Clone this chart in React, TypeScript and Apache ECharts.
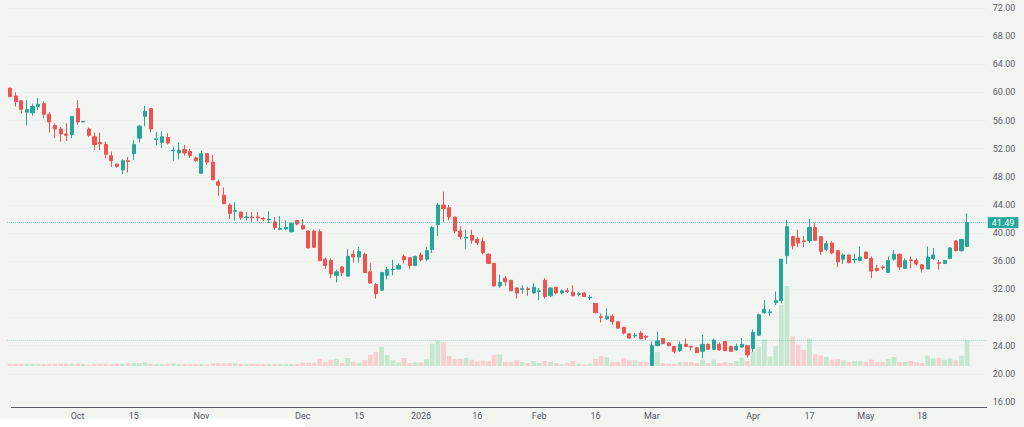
import React, { useEffect, useRef } from "react";
import * as echarts from "echarts";

// [open, close, low, high]
const candles: [number, number, number, number][] = [
  [60.6, 59.4, 59.3, 60.7], [59.5, 58.7, 58.0, 60.0], [58.8, 57.6, 57.0, 58.9], [57.2, 57.6, 55.3, 58.9],
  [57.1, 58.0, 56.7, 58.4], [58.0, 58.3, 57.5, 59.2], [58.4, 56.9, 56.3, 58.7], [56.9, 55.8, 54.3, 57.2],
  [55.3, 54.8, 53.5, 55.6], [54.8, 54.1, 53.0, 55.1], [54.1, 53.9, 53.1, 55.6], [54.0, 56.6, 53.5, 56.6],
  [57.7, 55.8, 55.4, 58.9], [55.8, 55.9, 55.7, 55.9], [54.8, 53.9, 53.7, 55.0], [53.7, 52.6, 51.8, 54.3],
  [52.9, 52.7, 51.8, 54.3], [52.6, 51.2, 50.6, 53.0], [51.0, 50.3, 49.4, 51.6], [49.8, 49.5, 49.3, 49.9],
  [49.0, 50.3, 48.4, 50.5], [50.3, 50.2, 48.6, 50.8], [51.3, 52.6, 50.4, 53.2], [53.5, 55.2, 52.9, 55.4],
  [56.6, 57.3, 55.2, 58.1], [57.7, 54.8, 54.3, 57.7], [53.3, 53.4, 52.5, 54.4], [52.9, 53.7, 52.1, 54.5],
  [53.6, 52.8, 52.6, 54.2], [51.7, 51.8, 50.3, 52.3], [51.4, 51.8, 50.5, 52.9], [51.9, 51.4, 51.0, 52.5],
  [51.6, 51.0, 50.7, 52.0], [50.7, 50.3, 50.1, 50.9], [48.5, 51.3, 48.4, 51.7], [51.3, 50.1, 49.7, 51.4],
  [50.1, 47.6, 47.5, 51.1], [47.3, 46.8, 45.3, 47.6], [45.4, 44.2, 44.1, 46.5], [44.0, 42.8, 42.0, 44.2],
  [43.1, 43.2, 41.8, 44.4], [43.0, 42.2, 41.9, 43.0], [42.2, 42.3, 41.8, 43.0], [42.3, 42.2, 41.6, 43.0],
  [42.3, 42.2, 41.7, 43.0], [42.1, 42.0, 41.7, 42.3], [41.9, 42.0, 41.4, 43.1], [41.6, 40.8, 40.5, 42.3],
  [40.55, 40.65, 40.5, 42.4], [40.6, 40.8, 40.4, 41.8], [40.2, 41.4, 40.1, 41.5], [41.8, 41.3, 41.1, 41.9],
  [41.1, 40.6, 40.5, 42.0], [40.3, 37.9, 37.8, 40.4], [40.3, 38.0, 37.9, 40.5], [40.2, 36.1, 36.0, 40.5],
  [36.3, 35.4, 34.9, 36.5], [36.1, 34.2, 33.6, 36.4], [34.0, 34.5, 33.0, 34.8], [35.2, 34.4, 33.9, 35.3],
  [33.9, 36.7, 33.8, 37.7], [37.0, 36.6, 35.8, 37.6], [36.6, 37.4, 35.8, 38.0], [37.0, 34.4, 34.3, 37.2],
  [34.5, 32.9, 32.9, 35.7], [32.7, 31.4, 30.7, 32.9], [31.9, 34.4, 31.8, 34.5], [34.0, 34.8, 33.4, 35.2],
  [34.8, 34.9, 34.0, 36.2], [34.9, 35.4, 34.8, 35.7], [36.7, 36.2, 35.7, 37.0], [36.5, 35.4, 34.9, 36.6],
  [35.4, 36.7, 35.3, 36.8], [36.9, 36.2, 36.0, 37.2], [36.3, 37.5, 36.0, 38.0], [37.7, 40.8, 37.2, 41.0],
  [41.2, 44.0, 39.6, 44.3], [44.0, 43.5, 41.6, 45.9], [43.6, 42.3, 41.8, 44.0], [42.3, 40.3, 40.0, 42.3],
  [40.3, 39.5, 39.1, 41.0], [39.3, 39.4, 37.8, 40.5], [39.7, 39.0, 38.5, 40.5], [39.1, 38.6, 38.3, 39.4],
  [38.8, 37.2, 37.0, 39.4], [37.0, 35.7, 35.6, 37.1], [35.7, 32.5, 32.4, 35.8], [32.5, 33.0, 32.2, 34.1],
  [33.6, 33.1, 32.5, 33.9], [33.3, 31.8, 31.8, 33.3], [32.2, 31.5, 30.7, 32.3], [32.0, 32.1, 31.4, 32.6],
  [32.1, 32.0, 31.1, 32.4], [31.5, 32.3, 31.4, 32.9], [31.7, 31.8, 30.5, 32.2], [33.3, 31.0, 30.7, 33.6],
  [31.1, 32.2, 30.9, 32.3], [32.3, 31.5, 31.3, 32.4], [31.5, 31.8, 31.3, 32.0], [31.8, 31.7, 31.5, 32.2],
  [31.6, 31.1, 31.0, 32.6], [31.3, 31.4, 31.0, 31.6], [31.5, 31.0, 30.9, 31.6], [30.8, 30.9, 30.5, 31.2],
  [30.0, 28.7, 28.6, 30.1], [28.1, 28.0, 27.3, 28.6], [27.8, 28.2, 27.7, 29.3], [28.2, 27.4, 27.0, 28.5],
  [27.4, 26.5, 26.4, 27.5], [26.6, 25.8, 25.6, 26.7], [25.7, 25.1, 25.0, 25.8], [25.4, 25.5, 25.1, 25.8],
  [25.8, 25.0, 24.9, 26.1], [25.3, 25.2, 24.8, 25.5], [21.2, 24.0, 21.1, 24.6], [24.0, 24.7, 23.9, 26.0],
  [25.0, 24.3, 24.2, 25.1], [24.4, 24.0, 23.9, 24.5], [23.9, 23.2, 22.9, 23.9], [23.3, 24.2, 23.1, 24.6],
  [24.2, 23.9, 23.8, 25.0], [23.9, 23.8, 23.3, 24.0], [23.7, 23.0, 23.0, 23.8], [23.2, 24.2, 22.2, 25.5],
  [24.2, 23.5, 23.4, 24.3], [23.5, 24.8, 23.4, 25.0], [24.2, 23.4, 23.3, 24.5], [24.6, 23.3, 23.2, 24.6],
  [23.9, 23.2, 23.1, 24.0], [23.4, 23.9, 23.3, 24.3], [23.8, 24.2, 23.7, 25.1], [24.0, 22.7, 22.3, 24.1],
  [23.6, 25.9, 23.1, 26.3], [25.5, 28.4, 25.4, 28.6], [28.7, 29.2, 28.5, 30.5], [28.7, 28.8, 28.2, 29.2],
  [30.1, 30.4, 29.8, 31.7], [30.4, 36.3, 30.0, 36.3], [36.8, 40.9, 35.6, 41.9], [39.5, 38.2, 37.7, 39.6],
  [39.3, 38.6, 38.0, 40.5], [38.9, 38.8, 38.0, 39.6], [38.9, 40.8, 38.6, 42.0], [40.8, 39.0, 38.9, 41.5],
  [39.5, 37.4, 36.9, 39.5], [37.7, 38.5, 37.4, 38.9], [38.6, 37.2, 37.0, 38.9], [37.5, 35.9, 35.2, 37.6],
  [36.3, 36.9, 35.6, 37.1], [36.9, 35.8, 35.7, 36.9], [36.2, 36.3, 35.7, 37.1], [36.1, 36.6, 36.0, 38.1],
  [37.3, 36.4, 36.3, 37.4], [36.4, 34.6, 33.6, 36.7], [35.0, 34.7, 34.5, 35.5], [35.2, 35.1, 34.8, 35.4],
  [34.4, 36.1, 34.4, 36.7], [36.3, 37.0, 36.1, 37.6], [37.0, 35.2, 34.8, 37.1], [35.0, 36.1, 34.9, 36.4],
  [36.2, 36.1, 35.0, 36.7], [36.1, 35.6, 35.4, 36.4], [35.5, 34.9, 34.4, 35.6], [34.9, 36.6, 34.9, 38.1],
  [36.4, 36.9, 36.2, 37.9], [35.8, 35.7, 34.8, 36.2], [35.7, 36.1, 35.6, 36.2], [36.4, 37.9, 36.3, 38.0],
  [38.9, 37.5, 37.4, 39.0], [37.5, 39.1, 37.4, 39.2], [38.1, 41.49, 38.1, 42.8],
];

// volume (thousand shares)
const volumes: number[] = [
  23, 23, 23, 23, 23, 23, 20, 23, 23, 23, 23, 23, 23, 20, 13, 23, 23, 23, 20, 23,
  23, 27, 30, 30, 37, 23, 20, 20, 23, 27, 20, 20, 20, 20, 20, 17, 27, 27, 27, 27,
  27, 20, 20, 23, 20, 20, 20, 20, 20, 20, 20, 20,
  33, 33, 33, 73, 40, 63, 73, 30, 80, 43, 33, 57, 113, 140, 193, 110, 57, 37, 80, 30,
  37, 37, 67, 223, 253, 237, 100, 70, 70, 80, 63, 43, 53, 50, 113, 117,
  40, 40, 57, 40, 30, 50, 30, 50, 40, 30, 17, 30, 50, 23, 17, 23, 73, 97, 90, 40,
  40, 80, 57, 57, 40, 40, 120, 140, 30, 23, 23, 40, 40, 40, 30, 63, 30, 63, 30, 40,
  30, 50, 83, 50,
  140, 190, 267, 97, 197, 610, 800, 297, 217, 163, 273, 117, 107, 90, 63, 70, 57, 40, 50, 50,
  40, 63, 40, 40, 70, 90, 40, 40, 50, 40, 30, 103, 77, 83, 63, 77, 57, 103, 257,
];

const tickLabels: [number, string][] = [
  [12, "Oct"], [22, "15"], [34, "Nov"], [52, "Dec"], [62, "15"], [73, "2026"], [83, "16"],
  [94, "Feb"], [104, "16"], [114, "Mar"], [132, "Apr"], [142, "17"], [152, "May"], [162, "18"],
];

const lastPrice = 41.49;
const rightPadBars = 3;
const priceMin = 16;
const priceMax = 72;
const priceStep = 4;
const volumeMax = 800;

const UP = "#26a69a";
const DOWN = "#ef5350";
const VOL_UP = "#c6e8d2";
const VOL_DOWN = "#f8d0d2";
const BG = "#f3f5f2";
const FONT = "Roboto, 'Noto Sans', sans-serif";

export default function App() {
  const ref = useRef<HTMLDivElement>(null);

  useEffect(() => {
    if (!ref.current) return;
    const chart = echarts.init(ref.current, undefined, { renderer: "svg" });
    const total = candles.length + rightPadBars;
    const cats = Array.from({ length: total }, (_, i) => String(i));
    const labelMap = new Map<number, string>(tickLabels);
    const barStep = 5.63;
    const left = 10 - barStep / 2;
    const plotRight = left + total * barStep;
    const right = 1024 - plotRight;

    const volData = volumes.map((v, i) => ({
      value: v,
      itemStyle: { color: candles[i][1] >= candles[i][0] ? VOL_UP : VOL_DOWN },
    }));

    chart.setOption({
      animation: false,
      backgroundColor: BG,
      textStyle: { fontFamily: FONT },
      grid: [
        { left, right, top: 8, height: 394 },
        { left, right, top: 286, height: 80 },
      ],
      xAxis: [
        {
          type: "category",
          gridIndex: 0,
          data: cats,
          boundaryGap: true,
          axisLine: { show: false },
          axisTick: { show: false },
          splitLine: { show: false },
          axisLabel: {
            interval: (index: number) => labelMap.has(index),
            formatter: (_v: string, index: number) => labelMap.get(index) ?? "",
            color: "#555a66",
            fontSize: 9,
            margin: 9,
            fontFamily: FONT,
            hideOverlap: false,
          },
        },
        {
          type: "category",
          gridIndex: 1,
          data: cats,
          boundaryGap: true,
          axisLine: { show: false },
          axisTick: { show: false },
          axisLabel: { show: false },
          splitLine: { show: false },
        },
      ],
      yAxis: [
        {
          type: "value",
          gridIndex: 0,
          position: "right",
          min: priceMin,
          max: priceMax,
          interval: priceStep,
          axisLine: { show: false },
          axisTick: { show: false },
          axisLabel: {
            formatter: (v: number) => v.toFixed(2),
            color: "#5d606b",
            fontSize: 9,
            margin: 6,
            fontFamily: FONT,
          },
          splitLine: { show: true, lineStyle: { color: "#edf0ed", width: 1 } },
        },
        {
          type: "value",
          gridIndex: 1,
          min: 0,
          max: volumeMax,
          show: false,
          splitLine: { show: false },
        },
      ],
      series: [
        {
          type: "bar",
          xAxisIndex: 1,
          yAxisIndex: 1,
          data: volData,
          barWidth: "86%",
          z: 1,
          silent: true,
          markLine: {
            silent: true,
            symbol: ["none", "none"],
            label: { show: false },
            lineStyle: { type: "dotted", color: "rgba(38,166,154,0.35)", width: 1 },
            data: [{ yAxis: volumes[volumes.length - 1] }],
          },
        },
        {
          type: "candlestick",
          xAxisIndex: 0,
          yAxisIndex: 0,
          data: candles,
          barWidth: "64%",
          z: 3,
          silent: true,
          itemStyle: {
            color: UP,
            color0: DOWN,
            borderColor: UP,
            borderColor0: DOWN,
            borderWidth: 1,
          },
          markLine: {
            silent: true,
            symbol: ["none", "none"],
            lineStyle: { type: "dotted", color: "rgba(38,166,154,0.6)", width: 1 },
            label: {
              show: true,
              position: "end",
              distance: 1,
              formatter: () => lastPrice.toFixed(2),
              backgroundColor: UP,
              color: "#ffffff",
              fontSize: 9,
              fontFamily: FONT,
              padding: [1, 4, 1, 4],
            },
            data: [{ yAxis: lastPrice }],
          },
        },
      ],
      graphic: [
        {
          type: "line",
          silent: true,
          shape: { x1: 11, y1: 407.5, x2: 987, y2: 407.5 },
          style: { stroke: "#5a5d68", lineWidth: 1 },
        },
        {
          type: "rect",
          silent: true,
          shape: { x: 0, y: 418, width: 305, height: 9 },
          style: { fill: "#ffffff" },
        },
      ],
    });

    return () => chart.dispose();
  }, []);

  return (
    <div
      ref={ref}
      style={{ position: "fixed", left: 0, top: 0, width: 1024, height: 427 }}
    />
  );
}
